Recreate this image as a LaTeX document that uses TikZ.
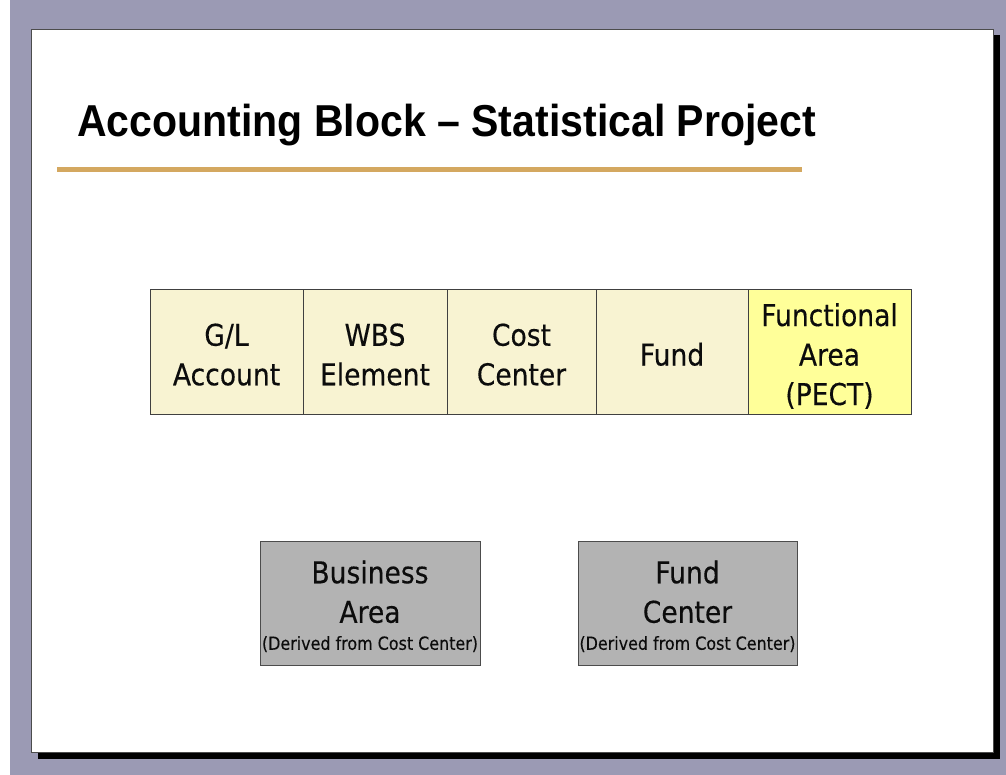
\documentclass[tikz,border=0pt]{standalone}
\usepackage{fontspec}
\usepackage{tikz}
\newfontfamily\titlefont{Liberation Sans}[FakeStretch=0.918]
\newfontfamily\boxfont{DejaVu Sans}[FakeStretch=0.885, FakeBold=0.3]
\definecolor{slidebg}{RGB}{155,154,180}
\definecolor{rulegold}{RGB}{212,168,96}
\definecolor{blockcream}{RGB}{248,243,210}
\definecolor{blockyellow}{RGB}{255,255,153}
\definecolor{derivedgray}{RGB}{179,179,179}
\definecolor{inkgray}{RGB}{12,12,12}
\tikzset{
  acctbox/.style={draw=black!75, line width=1pt, fill=blockcream, inner sep=0pt,
    minimum height=124pt, align=center, text=inkgray,
    text height=27pt, text depth=0pt,
    font=\boxfont\fontsize{30}{39.5}\selectfont},
  % height above the last baseline, so the first line sits at the same place
  twoline/.style={text height=66.5pt},
  threeline/.style={text height=106pt},
  derivbox/.style={acctbox, fill=derivedgray, draw=black!70, text height=93.5pt}
}
\newcommand{\derivednote}{\\[-12.5pt]{\fontsize{18}{20}\selectfont (Derived from Cost Center)}}

\begin{document}
\begin{tikzpicture}[x=1pt, y=-1pt, line cap=round]
    \useasboundingbox (0,0) rectangle (1006,775);

    % backdrop, shadow and slide
    \fill [slidebg] (0,0) rectangle (1006,775);
    \fill [white] (0,0) rectangle (10,775);
    \fill [black] (38,35) rectangle (1000,759);
    \draw [fill=white, draw=black!70, line width=0.8pt] (31,29) rectangle (993,752);

    % title and rule
    \draw (77,137) node[anchor=base west, inner sep=0pt] (title)
        {\titlefont\bfseries\fontsize{44.7}{50}\selectfont Accounting Block \textendash{} Statistical Project};
    \draw [rulegold, line width=5pt, line cap=butt] (57,170) -- (802,170);

    % accounting block
    \draw (226.5,352) node[acctbox, twoline, minimum width=153pt] (glacct) {G/L\\Account};
    \draw (375,352)   node[acctbox, twoline, minimum width=144pt] (wbs) {WBS\\Element};
    \draw (521.5,352) node[acctbox, twoline, minimum width=149pt] (costctr) {Cost\\Center};
    \draw (672,352)   node[acctbox, minimum width=152pt] (fund) {Fund};
    \draw (829.5,352) node[acctbox, threeline, minimum width=163pt, fill=blockyellow] (funcarea)
        {Functional\\Area\\(PECT)};

    % derived objects
    \draw (370,603)   node[derivbox, minimum width=220pt] (busarea) {Business\\Area\derivednote};
    \draw (687.5,603) node[derivbox, minimum width=219pt] (fundctr) {Fund\\Center\derivednote};

\end{tikzpicture}
\end{document}
